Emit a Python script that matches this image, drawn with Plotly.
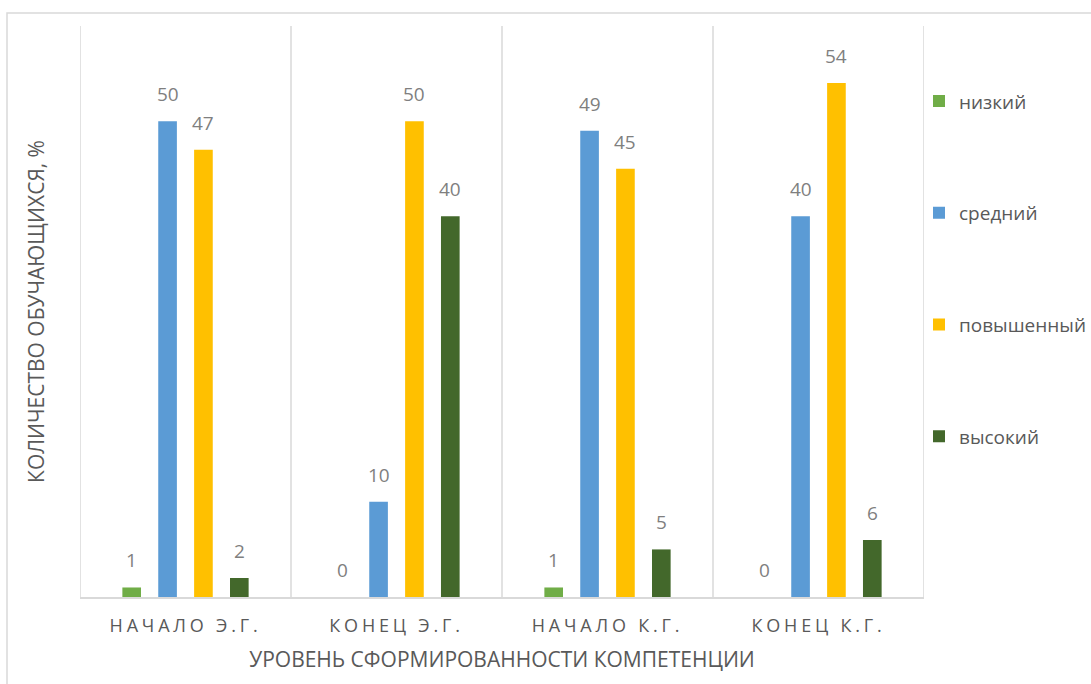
import plotly.graph_objects as go

categories = ["НАЧАЛО Э.Г.", "КОНЕЦ Э.Г.", "НАЧАЛО К.Г.", "КОНЕЦ К.Г."]
series_names = ["низкий", "средний", "повышенный", "высокий"]
low = [1, 0, 1, 0]
mid = [50, 10, 49, 40]
high = [47, 50, 45, 54]
top = [2, 40, 5, 6]
colors = ["#70AD47", "#5B9BD5", "#FFC000", "#43682B"]

FONT = "Open Sans"
GREY = "#595959"
LABEL_GREY = "#7F7F7F"

ML, MR, MT, MB = 80, 167, 26, 87
W, H = 1091, 684
BARGAP = 0.32
plot_w = W - ML - MR
plot_h = H - MT - MB
slot = plot_w / len(categories) * (1 - BARGAP) / len(series_names)

fig = go.Figure()
annotations = []
all_series = [low, mid, high, top]
for k, (name, vals, col) in enumerate(zip(series_names, all_series, colors)):
    fig.add_trace(go.Bar(
        name=name, x=categories, y=vals, marker_color=col,
        marker_line_width=0, legendgroup=name,
    ))
    for c, v in zip(categories, vals):
        annotations.append(dict(
            x=c, y=v, xref="x", yref="y", text=str(v), showarrow=False,
            xshift=(k - (len(series_names) - 1) / 2) * slot, yshift=12,
            yanchor="bottom", font=dict(family=FONT, size=19, color=LABEL_GREY),
        ))

ticktext = ['<span style="letter-spacing:3.8px">%s</span>' % c for c in categories]

shapes = []
for i in range(len(categories) + 1):
    shapes.append(dict(type="line", xref="x", yref="paper", x0=i - 0.5, x1=i - 0.5,
                       y0=0, y1=1, line=dict(color="#D9D9D9", width=1.5), layer="below"))
shapes.append(dict(type="rect", xref="paper", yref="paper",
                   x0=(7 - ML) / plot_w, x1=(1110 - ML) / plot_w,
                   y0=(H - MB - 720) / plot_h, y1=(H - MB - 13) / plot_h,
                   line=dict(color="#D9D9D9", width=1.5), fillcolor="rgba(0,0,0,0)", layer="below"))

fig.update_layout(
    width=W, height=H,
    margin=dict(l=ML, r=MR, t=MT, b=MB, autoexpand=False),
    paper_bgcolor="white", plot_bgcolor="white",
    barmode="group", bargap=BARGAP, bargroupgap=0.48,
    font=dict(family=FONT, color=GREY),
    shapes=shapes,
    annotations=annotations,
    xaxis=dict(
        tickmode="array", tickvals=categories, ticktext=ticktext,
        tickfont=dict(family=FONT, size=18, color=GREY),
        ticklabelstandoff=12,
        showline=True, linecolor="#D9D9D9", linewidth=1.5,
        showgrid=False, ticks="", range=[-0.5, 3.5],
        title=dict(text="УРОВЕНЬ СФОРМИРОВАННОСТИ КОМПЕТЕНЦИИ",
                   font=dict(family=FONT, size=21, color=GREY), standoff=16),
    ),
    yaxis=dict(
        range=[0, 60], showticklabels=False, showgrid=False, zeroline=False, ticks="",
        title=dict(text="КОЛИЧЕСТВО ОБУЧАЮЩИХСЯ, %",
                   font=dict(family=FONT, size=21, color=GREY), standoff=28),
    ),
    legend=dict(
        x=1.0 - 5 / plot_w, xanchor="left", xref="paper", y=0.905 - 2 / plot_h, yanchor="top",
        font=dict(family=FONT, size=19, color=GREY),
        tracegroupgap=84, itemwidth=30, bgcolor="rgba(0,0,0,0)",
    ),
    showlegend=True,
)

fig.write_html("out.html")
